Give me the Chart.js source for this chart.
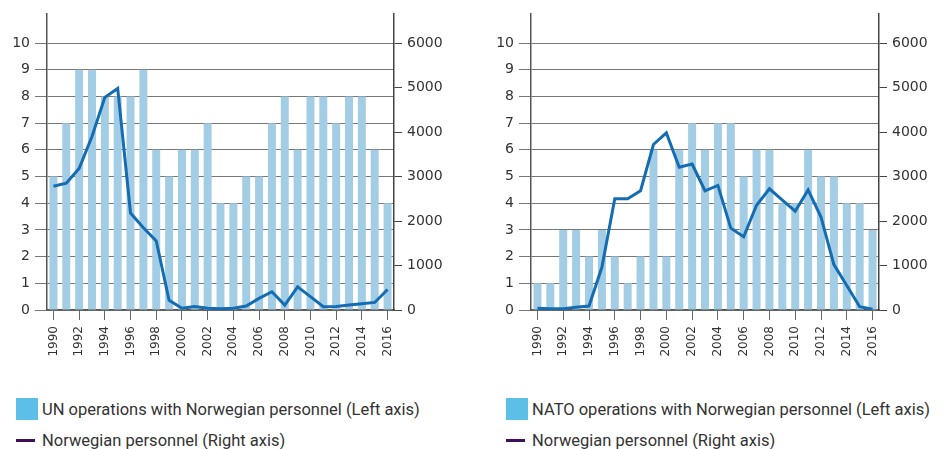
<!DOCTYPE html>
<html>
<head>
<meta charset="utf-8">
<script src="https://cdn.jsdelivr.net/npm/chart.js@4.4.1/dist/chart.umd.min.js"></script>
<style>
    html, body { margin: 0; padding: 0; background: #ffffff; }
    body { width: 945px; height: 449px; position: relative; overflow: hidden; }
    .chart-box { position: absolute; top: 0; height: 365px; }
    .legend { position: absolute; font-family: Roboto, 'Noto Sans', sans-serif; font-size: 16.5px; color: #333333; }
    .legend-row { position: absolute; left: 0; white-space: nowrap; display: flex; align-items: center; }
    .swatch-box { width: 22px; height: 22px; background: #5bbfe7; margin-right: 4px; }
    .swatch-line { width: 19px; height: 3px; background: #3d0f5c; margin-right: 7px; }
</style>
</head>
<body>
<div class="chart-box" style="left:0; width:470px;"><canvas id="unChart"></canvas></div>
<div class="chart-box" style="left:484px; width:461px;"><canvas id="natoChart"></canvas></div>
<div class="legend" id="unLegend" style="left:16px; top:398px;"></div>
<div class="legend" id="natoLegend" style="left:506px; top:398px;"></div>

<script>
// Years on the x axis
const years = ['1990', '1991', '1992', '1993', '1994', '1995', '1996', '1997', '1998', '1999',
    '2000', '2001', '2002', '2003', '2004', '2005', '2006', '2007', '2008', '2009',
    '2010', '2011', '2012', '2013', '2014', '2015', '2016'];

// Number of operations (left axis)
const unOperations = [5, 7, 9, 9, 8, 8, 8, 9, 6, 5, 6, 6, 7, 4, 4, 5, 5, 7, 8, 6, 8, 8, 7, 8, 8, 6, 4];
const natoOperations = [1, 1, 3, 3, 2, 3, 2, 1, 2, 6, 2, 6, 7, 6, 7, 7, 5, 6, 6, 4, 4, 6, 5, 5, 4, 4, 3];

// Norwegian personnel (right axis)
const unPersonnel = [2780, 2850, 3180, 3900, 4780, 4980, 2180, 1850, 1550, 220, 40, 80, 40, 30, 40,
    90, 260, 410, 110, 520, 300, 75, 80, 110, 140, 170, 460];
const natoPersonnel = [40, 30, 30, 60, 90, 960, 2500, 2500, 2680, 3720, 3980, 3210, 3280, 2680, 2800,
    1840, 1645, 2355, 2725, 2470, 2220, 2700, 2090, 1020, 550, 75, 20];

// Tick labels
const leftTicks = [0, 1, 2, 3, 4, 5, 6, 7, 8, 9, 10];
const rightTicks = [0, 1000, 2000, 3000, 4000, 5000, 6000];

const BAR_COLOR = '#a3cde4';
const LINE_COLOR = '#146cb2';
const TICK_FONT = "'DejaVu Sans', sans-serif";

function buildChart(canvasId, legendId, barLabel, barData, lineData, leftWidth, rightWidth) {
    const ctx = document.getElementById(canvasId);

    new Chart(ctx, {
        type: 'bar',
        data: {
            labels: years,
            datasets: [
                {
                    type: 'line',
                    label: 'Norwegian personnel (Right axis)',
                    data: lineData,
                    yAxisID: 'yRight',
                    borderColor: LINE_COLOR,
                    borderWidth: 3,
                    pointRadius: 0,
                    tension: 0,
                    fill: false,
                    order: 0
                },
                {
                    label: barLabel,
                    data: barData,
                    yAxisID: 'yLeft',
                    backgroundColor: BAR_COLOR,
                    categoryPercentage: 1,
                    barPercentage: 0.62,
                    order: 1
                }
            ]
        },
        options: {
            responsive: true,
            maintainAspectRatio: false,
            animation: false,
            layout: { padding: { top: 10, left: 0, right: 0, bottom: 0 } },
            plugins: {
                legend: { display: false },
                tooltip: { enabled: false }
            },
            scales: {
                x: {
                    offset: true,
                    border: { color: '#555555', width: 1.5 },
                    grid: {
                        offset: false,
                        drawOnChartArea: false,
                        tickLength: 10,
                        color: '#666666'
                    },
                    ticks: {
                        autoSkip: false,
                        minRotation: 90,
                        maxRotation: 90,
                        padding: 6,
                        color: '#333333',
                        font: { family: TICK_FONT, size: 12 },
                        // only every second year is labelled
                        callback: (value, index) => index % 2 === 0 ? years[index] : null
                    },
                    afterFit: (scale) => { scale.height = 55; }
                },
                yLeft: {
                    position: 'left',
                    min: 0,
                    max: 10 * 300 / 270,
                    border: { color: '#555555', width: 1.5 },
                    grid: {
                        color: '#777777',
                        tickLength: 12
                    },
                    ticks: {
                        padding: 5,
                        color: '#333333',
                        font: { family: TICK_FONT, size: 14 },
                        callback: (value) => String(value)
                    },
                    afterBuildTicks: (scale) => { scale.ticks = leftTicks.map(v => ({ value: v })); },
                    afterFit: (scale) => { scale.width = leftWidth; }
                },
                yRight: {
                    position: 'right',
                    min: 0,
                    max: 6000 * 300 / 270,
                    border: { color: '#444444', width: 1.5 },
                    grid: {
                        drawOnChartArea: false,
                        color: '#444444',
                        tickLength: 8
                    },
                    ticks: {
                        padding: 5,
                        color: '#333333',
                        font: { family: TICK_FONT, size: 14 },
                        callback: (value) => String(value)
                    },
                    afterBuildTicks: (scale) => { scale.ticks = rightTicks.map(v => ({ value: v })); },
                    afterFit: (scale) => { scale.width = rightWidth; }
                }
            }
        }
    });

    // HTML legend, two rows
    const legend = document.getElementById(legendId);
    legend.innerHTML =
        '<div class="legend-row" style="top:0;height:22px;"><span class="swatch-box"></span>' + barLabel + '</div>' +
        '<div class="legend-row" style="top:31px;height:22px;"><span class="swatch-line"></span>Norwegian personnel (Right axis)</div>';
}

buildChart('unChart', 'unLegend', 'UN operations with Norwegian personnel (Left axis)',
    unOperations, unPersonnel, 47, 76);
buildChart('natoChart', 'natoLegend', 'NATO operations with Norwegian personnel (Left axis)',
    natoOperations, natoPersonnel, 47, 66);
</script>
</body>
</html>
